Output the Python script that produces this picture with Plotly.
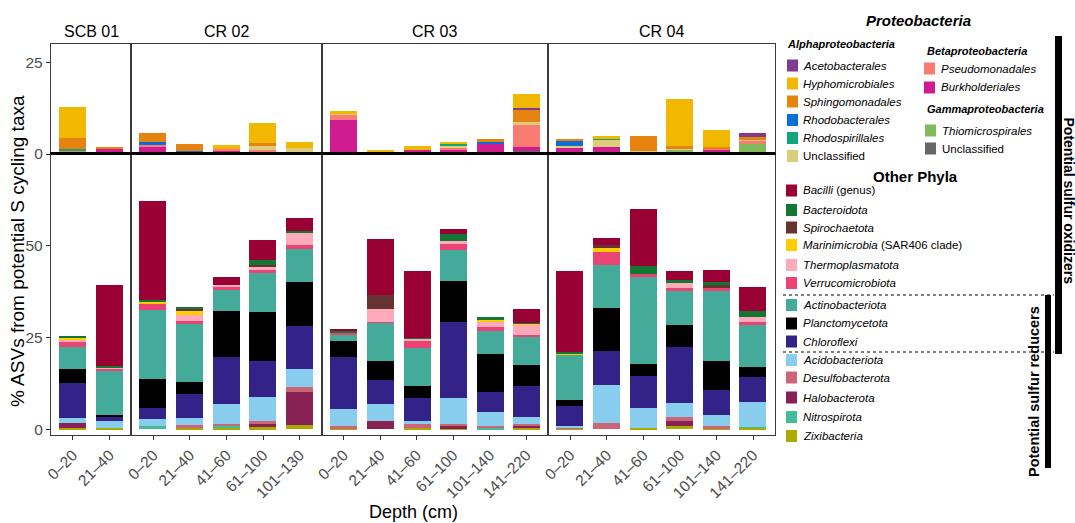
import plotly.graph_objects as go
from plotly.subplots import make_subplots

# ---------------- data ----------------
sites = ["SCB 01", "CR 02", "CR 03", "CR 04"]
depths_scb01 = ["0–20", "21–40"]
depths_cr02 = ["0–20", "21–40", "41–60", "61–100", "101–130"]
depths_cr03 = ["0–20", "21–40", "41–60", "61–100", "101–140", "141–220"]
depths_cr04 = ["0–20", "21–40", "41–60", "61–100", "101–140", "141–220"]
site_depths = [depths_scb01, depths_cr02, depths_cr03, depths_cr04]

# sample order: SCB01(2), CR02(5), CR03(6), CR04(6)
# --- Proteobacteria (top panel), listed bottom -> top of stack ---
gamma_unclassified = [0, 0, 0, 0, 0, 0, 0, 0.3, 0.6, 0.7, 0, 0.4, 0.8, 0, 0, 0.3, 0, 0, 0]
thiomicrospirales = [0.55, 0, 0, 0, 0.4, 0.45, 0.45, 0, 0, 0, 0.8, 0, 0, 0, 0.6, 0, 1.1, 0.8, 2.75]
burkholderiales = [0.2, 1.5, 1.9, 0.4, 0.55, 0.35, 0, 9.05, 0, 0.5, 0.3, 2.45, 1.1, 1.8, 1.35, 0, 0, 0.3, 0]
pseudomonadales = [0.25, 0, 0.55, 0, 0.5, 0.4, 0.2, 1.35, 0, 0, 0.8, 0, 6.05, 0, 0, 0, 0, 0.2, 0.8]
alpha_unclassified = [0, 0, 0, 0, 0, 1.2, 1.1, 0.3, 0, 0, 0.4, 0, 0.8, 0.25, 1.9, 0.55, 0.3, 0, 0.3]
rhodospirillales = [0.4, 0, 0, 0, 0, 0, 0, 0, 0, 0, 0.3, 0, 0, 0, 0.25, 0, 0, 0, 0]
rhodobacterales = [0, 0, 0.7, 0.55, 0, 0, 0, 0, 0, 0, 0, 0.3, 0, 1.4, 0, 0, 0, 0, 0]
sphingomonadales = [3.1, 0.5, 2.45, 1.65, 0, 0.5, 0, 0, 0, 0, 0, 0.85, 3.5, 0.55, 0, 4.1, 0.8, 0.55, 0.8]
acetobacterales = [0, 0, 0, 0, 0, 0, 0, 0, 0, 0, 0, 0, 0.3, 0, 0, 0, 0, 0, 1.1]
hyphomicrobiales = [8.3, 0, 0, 0, 1.1, 5.45, 1.6, 0.8, 0.3, 0.85, 0.55, 0, 3.9, 0, 0.85, 0, 12.9, 4.65, 0]

# --- Other phyla (bottom panel), listed bottom -> top of stack ---
zixibacteria = [0.3, 0.3, 0, 0.3, 0.5, 0.5, 1.1, 0.3, 0, 0.3, 0.3, 0, 0.3, 0.3, 0, 0.3, 0.8, 0.3, 0.4]
nitrospirota = [0, 0, 0.8, 0, 0.3, 0, 0, 0, 0, 0, 0, 0.5, 0, 0, 0, 0, 0, 0, 0.2]
halobacterota = [1.3, 0, 0, 0, 0, 0.9, 9.2, 0, 2.4, 0, 0.5, 0, 0.8, 0, 0, 0, 1.6, 0, 0]
desulfobacterota = [0, 0, 0, 0.8, 0.6, 0.8, 1.1, 0.5, 0, 1.1, 0.6, 0.3, 0.3, 0.2, 1.6, 0, 0.9, 0.5, 0]
acidobacteriota = [1.4, 1.9, 1.9, 1.9, 5.4, 6.5, 5.1, 4.6, 4.6, 1.0, 7.0, 3.8, 1.9, 0.5, 10.6, 5.4, 4.0, 3.0, 6.8]
chloroflexi = [9.5, 1.3, 3.0, 6.5, 13.0, 10.0, 11.7, 14.4, 6.3, 6.0, 20.9, 5.7, 8.6, 5.4, 9.2, 8.9, 15.2, 6.8, 6.8]
planctomycetota = [4.0, 0.3, 8.1, 3.5, 12.4, 13.3, 11.9, 4.3, 5.4, 3.5, 11.1, 10.3, 5.7, 1.7, 11.7, 3.3, 6.0, 8.1, 2.7]
actinobacteriota = [6.0, 12.2, 18.7, 15.7, 5.7, 10.5, 9.0, 1.6, 10.3, 10.3, 8.4, 6.2, 7.6, 12.2, 11.6, 23.6, 9.2, 19.0, 11.4]
verrucomicrobiota = [1.3, 0.5, 1.9, 0.8, 1.1, 0.9, 1.0, 0.6, 0.3, 1.9, 1.6, 1.1, 0.5, 0, 3.6, 0.8, 0.8, 0.8, 0.8]
thermoplasmatota = [0.7, 0.3, 0, 1.7, 0.3, 1.0, 3.6, 0, 3.5, 0.6, 0.8, 1.4, 2.8, 0, 0, 0, 1.3, 0, 1.4]
marinimicrobia = [0.5, 0, 0.3, 1.3, 0, 0, 0, 0, 0, 0, 0, 0.5, 0.2, 0.2, 1.3, 0, 0, 0, 0]
spirochaetota = [0, 0, 0, 0.5, 0, 0.3, 0, 0, 3.8, 0, 0, 0, 0, 0, 0.5, 0, 0, 0.8, 0]
bacteroidota = [0.5, 0.5, 0.5, 0.3, 0, 1.4, 0.2, 0.5, 0, 0.2, 1.9, 0.8, 0.3, 0.6, 0, 2.1, 0.9, 0.8, 1.8]
bacilli = [0, 22.0, 27.1, 0, 2.2, 5.4, 3.6, 0.6, 15.2, 18.2, 1.6, 0, 3.8, 21.9, 1.9, 15.5, 2.4, 3.3, 6.6]

# legend labels (display text), colours
proteo_names = ["Unclassified ", "Thiomicrospirales", "Burkholderiales", "Pseudomonadales",
                "Unclassified", "Rhodospirillales", "Rhodobacterales", "Sphingomonadales",
                "Acetobacterales", "Hyphomicrobiales"]
proteo_values = [gamma_unclassified, thiomicrospirales, burkholderiales, pseudomonadales,
                 alpha_unclassified, rhodospirillales, rhodobacterales, sphingomonadales,
                 acetobacterales, hyphomicrobiales]
proteo_colors = ["#666666", "#80BA5A", "#CF1C90", "#F97B72", "#DCCD7D", "#11A579",
                 "#0B6ED8", "#E68310", "#7F3C8D", "#F2B701"]

other_names = ["Zixibacteria", "Nitrospirota", "Halobacterota", "Desulfobacterota",
               "Acidobacteriota", "Chloroflexi", "Planctomycetota", "Actinobacteriota",
               "Verrucomicrobiota", "Thermoplasmatota", "Marinimicrobia", "Spirochaetota",
               "Bacteroidota", "Bacilli"]
other_values = [zixibacteria, nitrospirota, halobacterota, desulfobacterota, acidobacteriota,
                chloroflexi, planctomycetota, actinobacteriota, verrucomicrobiota,
                thermoplasmatota, marinimicrobia, spirochaetota, bacteroidota, bacilli]
other_colors = ["#AAAA00", "#44BB99", "#882255", "#CC6677", "#88CCEE", "#332288", "#000000",
                "#44AA99", "#EA4474", "#FFAABB", "#FFCC00", "#663333", "#117733", "#990033"]

# ---------------- figure ----------------
FONT = "Liberation Sans, Arial, Helvetica, sans-serif"
ncat = [len(d) for d in site_depths]
fig = make_subplots(rows=2, cols=4, column_widths=[n + 0.2 for n in ncat],
                    row_heights=[110, 281], horizontal_spacing=0, vertical_spacing=0)

BW = 0.74
starts = [0]
for n in ncat:
    starts.append(starts[-1] + n)

for vals_list, names, colors, row in [(proteo_values, proteo_names, proteo_colors, 1),
                                      (other_values, other_names, other_colors, 2)]:
    for vals, name, col in zip(vals_list, names, colors):
        for c in range(4):
            s, e = starts[c], starts[c + 1]
            fig.add_trace(go.Bar(x=site_depths[c], y=vals[s:e], name=name, width=BW,
                                 marker=dict(color=col, line=dict(width=0)),
                                 showlegend=False), row=row, col=c + 1)

fig.update_layout(barmode="stack", bargap=0, plot_bgcolor="white", paper_bgcolor="white",
                  width=1075, height=523, margin=dict(l=51, r=300, t=44, b=88),
                  font=dict(family=FONT, color="#000000"))

LINEC = "#3a3a3a"
LW = 1.3
for c in range(4):
    n = ncat[c]
    for r in (1, 2):
        fig.update_xaxes(type="category", categoryorder="array", categoryarray=site_depths[c],
                         range=[-0.6, n - 0.4], showline=True, mirror=True, linecolor=LINEC,
                         linewidth=LW, showgrid=False, zeroline=False, row=r, col=c + 1)
    fig.update_xaxes(showticklabels=False, ticks="", row=1, col=c + 1)
    fig.update_xaxes(ticks="outside", ticklen=4, tickwidth=1, tickcolor="#333333",
                     tickangle=-45, tickfont=dict(size=15.5, color="#4D4D4D", family=FONT),
                     row=2, col=c + 1)
    fig.update_yaxes(range=[0, 30], tickvals=[0, 25], showline=True, mirror=True,
                     linecolor=LINEC, linewidth=LW, showgrid=False, zeroline=False,
                     row=1, col=c + 1)
    fig.update_yaxes(range=[-1.55, 75], tickvals=[0, 25, 50], showline=True, mirror=True,
                     linecolor=LINEC, linewidth=LW, showgrid=False, zeroline=False,
                     row=2, col=c + 1)
    if c == 0:
        for r in (1, 2):
            fig.update_yaxes(ticks="outside", ticklen=4, tickcolor="#333333",
                             tickfont=dict(size=15.5, color="#4D4D4D", family=FONT),
                             row=r, col=1)
    else:
        for r in (1, 2):
            fig.update_yaxes(showticklabels=False, ticks="", row=r, col=c + 1)


def PX(x):
    return (x - 51) / 724


def PY(y):
    return (435 - y) / 391


shapes = []
annos = []
# thick separator line between panels
shapes.append(dict(type="line", xref="paper", yref="paper", x0=PX(50.5), x1=PX(775.5),
                   y0=PY(153.5), y1=PY(153.5), line=dict(color="black", width=3)))

# strip labels
dom_starts = [0]
tot = sum(n + 0.2 for n in ncat)
for n in ncat:
    dom_starts.append(dom_starts[-1] + (n + 0.2) / tot)
for c, s in enumerate(sites):
    annos.append(dict(text=s, x=(dom_starts[c] + dom_starts[c + 1]) / 2, y=PY(31.5),
                      xref="paper", yref="paper", showarrow=False, xanchor="center",
                      yanchor="middle", font=dict(size=16, color="black", family=FONT)))

# axis titles
annos.append(dict(text="% ASVs from potential S cycling taxa", x=PX(17), y=PY(251),
                  xref="paper", yref="paper", showarrow=False, textangle=-90,
                  xanchor="center", yanchor="middle", font=dict(size=19, family=FONT)))
annos.append(dict(text="Depth (cm)", x=PX(413), y=PY(512), xref="paper", yref="paper",
                  showarrow=False, xanchor="center", yanchor="middle",
                  font=dict(size=18, family=FONT)))

# ---- manual legend ----
def header(text, x, y, size, anchor="left"):
    annos.append(dict(text=text, x=PX(x), y=PY(y), xref="paper", yref="paper",
                      showarrow=False, xanchor=anchor, yanchor="middle",
                      font=dict(size=size, family=FONT, color="black")))


def entry(label, color, xs, y, xt, w=11, h=12):
    shapes.append(dict(type="rect", xref="paper", yref="paper", x0=PX(xs), x1=PX(xs + w),
                       y0=PY(y + h / 2), y1=PY(y - h / 2), fillcolor=color,
                       line=dict(width=0)))
    annos.append(dict(text=label, x=PX(xt), y=PY(y), xref="paper", yref="paper",
                      showarrow=False, xanchor="left", yanchor="middle",
                      font=dict(size=11.5, family=FONT, color="black")))


header("<b><i>Proteobacteria</i></b>", 918, 21, 15, "center")
header("<b><i>Alphaproteobacteria</i></b>", 785, 44, 11)
alpha_entries = [("<i>Acetobacterales</i>", "#7F3C8D", 65.5),
                 ("<i>Hyphomicrobiales</i>", "#F2B701", 83.5),
                 ("<i>Sphingomonadales</i>", "#E68310", 101.5),
                 ("<i>Rhodobacterales</i>", "#0B6ED8", 120),
                 ("<i>Rhodospirillales</i>", "#11A579", 138),
                 ("Unclassified", "#DCCD7D", 156)]
for lab, colr, y in alpha_entries:
    entry(lab, colr, 787, y, 801)
header("<b><i>Betaproteobacteria</i></b>", 925, 50.5, 11)
for lab, colr, y in [("<i>Pseudomonadales</i>", "#F97B72", 68.5),
                     ("<i>Burkholderiales</i>", "#CF1C90", 87.5)]:
    entry(lab, colr, 924, y, 938.5)
header("<b><i>Gammaproteobacteria</i></b>", 925, 109, 11)
for lab, colr, y in [("<i>Thiomicrospirales</i>", "#80BA5A", 130.5),
                     ("Unclassified", "#666666", 148.5)]:
    entry(lab, colr, 925, y, 940)

header("<b>Other Phyla</b>", 916, 176, 15, "center")
other_entries = [("<i>Bacilli</i> (genus)", "#990033", 190.5),
                 ("<i>Bacteroidota</i>", "#117733", 210),
                 ("<i>Spirochaetota</i>", "#663333", 227.5),
                 ("<i>Marinimicrobia</i> (SAR406 clade)", "#FFCC00", 245),
                 ("<i>Thermoplasmatota</i>", "#FFAABB", 265),
                 ("<i>Verrucomicrobiota</i>", "#EA4474", 283),
                 ("<i>Actinobacteriota</i>", "#44AA99", 305),
                 ("<i>Planctomycetota</i>", "#000000", 323.5),
                 ("<i>Chloroflexi</i>", "#332288", 341.5),
                 ("<i>Acidobacteriota</i>", "#88CCEE", 360),
                 ("<i>Desulfobacterota</i>", "#CC6677", 377.5),
                 ("<i>Halobacterota</i>", "#882255", 397.5),
                 ("<i>Nitrospirota</i>", "#44BB99", 417),
                 ("<i>Zixibacteria</i>", "#AAAA00", 436)]
for lab, colr, y in other_entries:
    entry(lab, colr, 786, y, 800.5)

# dashed separators
for y in (295, 352):
    shapes.append(dict(type="line", xref="paper", yref="paper", x0=PX(783), x1=PX(1054),
                       y0=PY(y), y1=PY(y), line=dict(color="black", width=1, dash="dot")))

# bracket bars
shapes.append(dict(type="rect", xref="paper", yref="paper", x0=PX(1055), x1=PX(1062),
                   y0=PY(354), y1=PY(36), fillcolor="black", line=dict(width=0)))
shapes.append(dict(type="rect", xref="paper", yref="paper", x0=PX(1045), x1=PX(1051),
                   y0=PY(468), y1=PY(295), fillcolor="black", line=dict(width=0)))
annos.append(dict(text="<b>Potential sulfur oxidizers</b>", x=PX(1068.5), y=PY(201),
                  xref="paper", yref="paper", showarrow=False, textangle=90,
                  xanchor="center", yanchor="middle",
                  font=dict(size=14, family=FONT, color="black")))
annos.append(dict(text="<b>Potential sulfur reducers</b>", x=PX(1034), y=PY(392),
                  xref="paper", yref="paper", showarrow=False, textangle=-90,
                  xanchor="center", yanchor="middle",
                  font=dict(size=14.5, family=FONT, color="black")))

fig.update_layout(shapes=shapes, annotations=list(fig.layout.annotations) + annos)

fig.write_html("out.html")
